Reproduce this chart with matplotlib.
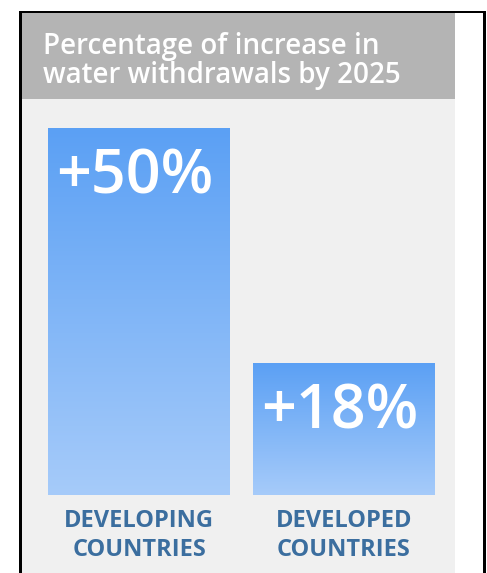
import numpy as np
import matplotlib
matplotlib.use("Agg")
import matplotlib.pyplot as plt
from matplotlib.patches import Rectangle
from matplotlib.colors import LinearSegmentedColormap

plt.rcParams['font.family'] = ['Open Sans', 'DejaVu Sans']

# values
categories = ["DEVELOPING\nCOUNTRIES", "DEVELOPED\nCOUNTRIES"]
increase_pct = [50, 18]
value_labels = ["+50%", "+18%"]
title = "Percentage of increase in\nwater withdrawals by 2025"

W, H = 487, 573
fig = plt.figure(figsize=(W / 100, H / 100), dpi=100)
fig.patch.set_facecolor("white")


def px_box(x0, y0, x1, y1):
    # pixel box (top-left origin) -> figure fraction rect
    return (x0 / W, 1 - y1 / H, (x1 - x0) / W, (y1 - y0) / H)


# light panel and grey header band
x, y, w, h = px_box(21, 12, 455, 573)
fig.patches.append(Rectangle((x, y), w, h, transform=fig.transFigure,
                             facecolor="#f0f0f0", edgecolor="none", zorder=0))
x, y, w, h = px_box(21, 13, 455, 99)
fig.patches.append(Rectangle((x, y), w, h, transform=fig.transFigure,
                             facecolor="#b4b4b4", edgecolor="none", zorder=1))

# black frame on left, top and right
for (x0, y0, x1, y1) in [(19, 11, 22, 573), (19, 11, 486, 13), (483, 11, 486, 573)]:
    x, y, w, h = px_box(x0, y0, x1, y1)
    fig.patches.append(Rectangle((x, y), w, h, transform=fig.transFigure,
                                 facecolor="black", edgecolor="none", zorder=2))

fig.text(43 / W, 1 - 83 / H, title, color="white", fontsize=20,
         fontweight="semibold", ha="left", va="baseline", linespacing=1.0,
         zorder=3)

# bar chart area
ax = fig.add_axes(px_box(48, 128, 435, 495), zorder=5)
ax.set_facecolor("none")
bar_w = 182 / 205
xs = np.arange(len(increase_pct))
bars = ax.bar(xs, increase_pct, width=bar_w, color="none", edgecolor="none")

cmap = LinearSegmentedColormap.from_list("blue_fade", ["#a6cbfa", "#5ba0f4"])
grad = np.linspace(0, 1, 256).reshape(-1, 1)
for b in bars:
    bx, by, bw, bh = b.get_x(), b.get_y(), b.get_width(), b.get_height()
    im = ax.imshow(grad, cmap=cmap, origin="lower", aspect="auto",
                   extent=(bx, bx + bw, by, by + bh), interpolation="bicubic")
    im.set_clip_path(b)
ax.set_xlim(-bar_w / 2, xs[-1] + bar_w / 2)
ax.set_ylim(0, max(increase_pct))

for b, lab in zip(bars, value_labels):
    ax.annotate(lab, xy=(b.get_x(), b.get_height()), xytext=(5.5, -47),
                textcoords="offset points", ha="left", va="baseline",
                color="white", fontsize=44, fontweight="semibold")

ax.set_xticks(xs)
ax.set_xticklabels(categories, color="#3b6e9f", fontsize=17,
                   fontweight="bold", linespacing=1.3)
ax.tick_params(axis="x", length=0, pad=10)
ax.set_yticks([])
for s in ax.spines.values():
    s.set_visible(False)

fig.savefig("out.png", dpi=100)
